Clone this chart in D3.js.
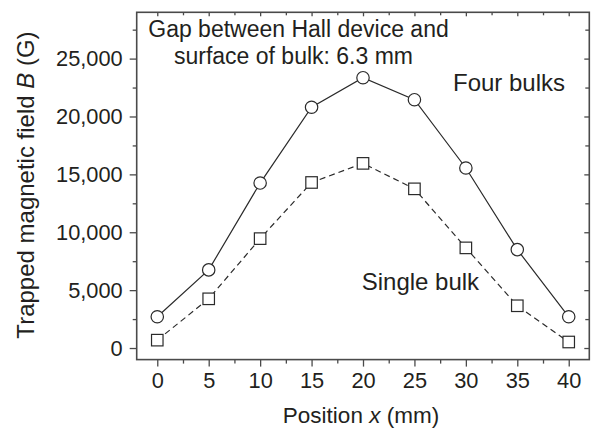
<!DOCTYPE html>
<html>
<head>
<meta charset="utf-8">
<script src="https://cdn.jsdelivr.net/npm/d3@7"></script>
<style>
  html, body { margin: 0; padding: 0; background: #fff; }
  svg text { font-family: "Liberation Sans", Arial, sans-serif; fill: #231f20; }
</style>
</head>
<body>
<svg id="chart" width="591" height="429"></svg>
<script>
// Trapped field profile across the bulk magnets
const positions = [0, 5, 10, 15, 20, 25, 30, 35, 40];
const fourBulks = [2700, 6750, 14250, 20800, 23350, 21450, 15550, 8500, 2700];
const singleBulk = [680, 4250, 9450, 14300, 15950, 13750, 8650, 3650, 520];
const xTickValues = [0, 5, 10, 15, 20, 25, 30, 35, 40];
const yTickValues = [0, 5000, 10000, 15000, 20000, 25000];

const svg = d3.select("#chart");
const plotLeft = 136.7, plotRight = 589.3, plotTop = 12.3, plotBottom = 359.6;

const x = d3.scaleLinear().domain([-2, 42]).range([plotLeft, plotRight]);
const y = d3.scaleLinear().domain([-1000, 29000]).range([plotBottom, plotTop]);

const axisColor = "#4a4a4a";
const tickFont = 21.8;
const fmt = d3.format(",");

function styleAxis(g) {
  g.selectAll("path").remove();
  g.selectAll("line").attr("stroke", axisColor).attr("stroke-width", 1.3);
  g.selectAll("text").attr("font-size", tickFont).attr("fill", "#231f20");
}

// minor ticks
const xMinor = d3.range(-2.5, 42.1, 5).filter(v => v > -2 && v < 42);
const yMinor = d3.range(-2500, 29001, 5000).filter(v => v > -1000 && v < 29000);

svg.append("g").attr("transform", `translate(0,${plotBottom})`)
  .call(d3.axisBottom(x).tickValues(xMinor).tickSize(4).tickFormat(""))
  .call(styleAxis);
svg.append("g").attr("transform", `translate(${plotLeft},0)`)
  .call(d3.axisLeft(y).tickValues(yMinor).tickSize(4).tickFormat(""))
  .call(styleAxis);

// major ticks with labels
svg.append("g").attr("transform", `translate(0,${plotBottom})`)
  .call(d3.axisBottom(x).tickValues(xTickValues).tickSize(7).tickPadding(6).tickFormat(d3.format("d")))
  .call(styleAxis);
svg.append("g").attr("transform", `translate(${plotLeft},0)`)
  .call(d3.axisLeft(y).tickValues(yTickValues).tickSize(7).tickPadding(7).tickFormat(fmt))
  .call(styleAxis);

// mirrored ticks on top and right, pointing inward
svg.append("g").attr("transform", `translate(0,${plotTop})`)
  .call(d3.axisBottom(x).tickValues(xTickValues).tickSize(4).tickFormat(""))
  .call(styleAxis);
svg.append("g").attr("transform", `translate(0,${plotTop})`)
  .call(d3.axisBottom(x).tickValues(xMinor).tickSize(3).tickFormat(""))
  .call(styleAxis);
svg.append("g").attr("transform", `translate(${plotRight},0)`)
  .call(d3.axisLeft(y).tickValues(yTickValues).tickSize(5).tickFormat(""))
  .call(styleAxis);
svg.append("g").attr("transform", `translate(${plotRight},0)`)
  .call(d3.axisLeft(y).tickValues(yMinor).tickSize(4).tickFormat(""))
  .call(styleAxis);

// frame
svg.append("rect")
  .attr("x", plotLeft).attr("y", plotTop)
  .attr("width", plotRight - plotLeft).attr("height", plotBottom - plotTop)
  .attr("fill", "none").attr("stroke", axisColor).attr("stroke-width", 1.6);

// data lines
const line = vals => d3.line().x((d, i) => x(positions[i])).y(d => y(d))(vals);

svg.append("path").attr("d", line(fourBulks))
  .attr("fill", "none").attr("stroke", "#2a2a2a").attr("stroke-width", 1.2);
svg.append("path").attr("d", line(singleBulk))
  .attr("fill", "none").attr("stroke", "#2a2a2a").attr("stroke-width", 1.2)
  .attr("stroke-dasharray", "6,4");

// markers
svg.append("g").selectAll("circle").data(fourBulks).join("circle")
  .attr("cx", (d, i) => x(positions[i])).attr("cy", d => y(d)).attr("r", 6.2)
  .attr("fill", "#fff").attr("stroke", "#2a2a2a").attr("stroke-width", 1.2);

const s = 11.5;
svg.append("g").selectAll("rect").data(singleBulk).join("rect")
  .attr("x", (d, i) => x(positions[i]) - s / 2).attr("y", d => y(d) - s / 2)
  .attr("width", s).attr("height", s)
  .attr("fill", "#fff").attr("stroke", "#2a2a2a").attr("stroke-width", 1.2);

// annotations
const ann = svg.append("text").attr("font-size", 23).attr("text-anchor", "middle");
ann.append("tspan").attr("x", 298.5).attr("y", 37).text("Gap between Hall device and");
ann.append("tspan").attr("x", 293.5).attr("y", 64).text("surface of bulk: 6.3 mm");

svg.append("text").attr("x", 453).attr("y", 90.7).attr("font-size", 24).text("Four bulks");
svg.append("text").attr("x", 361.7).attr("y", 290).attr("font-size", 24).text("Single bulk");

// axis titles
const xt = svg.append("text").attr("x", 361).attr("y", 423)
  .attr("font-size", 22.5).attr("text-anchor", "middle");
xt.append("tspan").text("Position ");
xt.append("tspan").attr("font-style", "italic").text("x");
xt.append("tspan").text(" (mm)");

const yt = svg.append("text")
  .attr("transform", `translate(34,185) rotate(-90)`)
  .attr("font-size", 24).attr("text-anchor", "middle");
yt.append("tspan").text("Trapped magnetic field ");
yt.append("tspan").attr("font-style", "italic").text("B");
yt.append("tspan").text(" (G)");
</script>
</body>
</html>
